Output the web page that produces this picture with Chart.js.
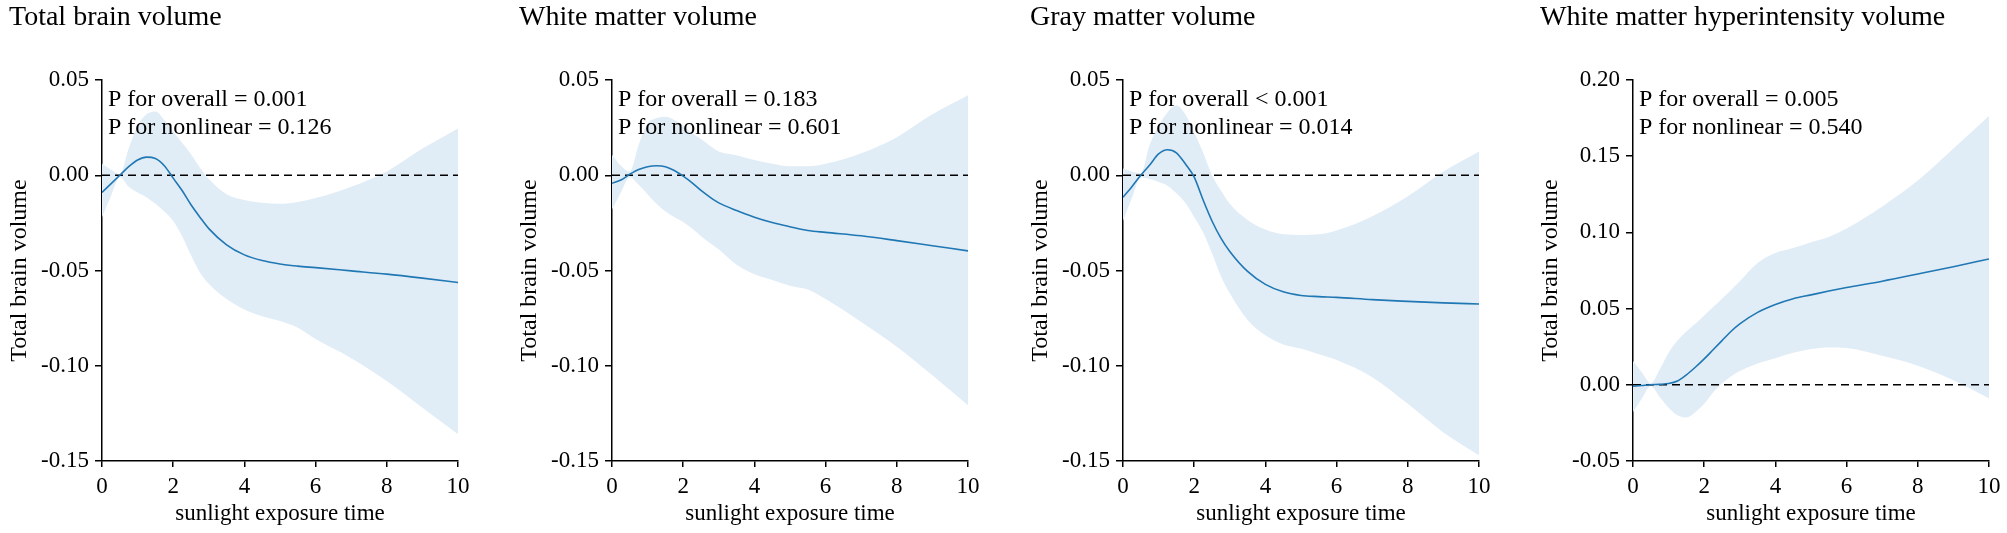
<!DOCTYPE html>
<html>
<head>
<meta charset="utf-8">
<script src="https://cdn.jsdelivr.net/npm/chart.js@4"></script>
<style>
  html, body { margin: 0; padding: 0; background: #fff; overflow: hidden; }
  #wrap { position: relative; width: 2007px; height: 533px; }
  canvas { position: absolute; top: 0; }
</style>
</head>
<body>
<div id="wrap"></div>
<script>
// ---------- data ----------
const xGrid = [0, 0.25, 0.5, 0.75, 1, 1.25, 1.5, 1.75, 2, 2.25, 2.5, 2.75, 3, 3.5, 4, 4.5, 5, 5.5, 6, 7, 8, 9, 10];

const panelTitles = ["Total brain volume", "White matter volume", "Gray matter volume", "White matter hyperintensity volume"];
const pOverall = ["P for overall = 0.001", "P for overall = 0.183", "P for overall < 0.001", "P for overall = 0.005"];
const pNonlinear = ["P for nonlinear = 0.126", "P for nonlinear = 0.601", "P for nonlinear = 0.014", "P for nonlinear = 0.540"];
const yAxisTitle = "Total brain volume";
const xAxisTitle = "sunlight exposure time";
const xTicks = [0, 2, 4, 6, 8, 10];
const yTicksVolume = [-0.15, -0.10, -0.05, 0.00, 0.05];
const yTicksWmh = [-0.05, 0.00, 0.05, 0.10, 0.15, 0.20];

// Total brain volume
const tbvMean  = [-0.009, -0.0045, 0.0, 0.0045, 0.008, 0.0095, 0.0088, 0.005, -0.0015, -0.008, -0.0155, -0.022, -0.028, -0.0365, -0.0418, -0.0448, -0.0466, -0.0477, -0.0485, -0.0502, -0.0519, -0.054, -0.0563];
const tbvUpper = [0.006, 0.003, 0.0005, 0.014, 0.026, 0.032, 0.0335, 0.029, 0.023, 0.017, 0.011, 0.004, -0.002, -0.010, -0.013, -0.0145, -0.015, -0.014, -0.012, -0.006, 0.002, 0.014, 0.0246];
const tbvLower = [-0.022, -0.011, -0.001, -0.006, -0.009, -0.0115, -0.015, -0.019, -0.024, -0.032, -0.042, -0.051, -0.057, -0.065, -0.0705, -0.074, -0.0765, -0.080, -0.086, -0.096, -0.108, -0.122, -0.136];

// White matter volume
const wmMean  = [-0.0042, -0.0025, 0.0005, 0.003, 0.0045, 0.005, 0.0045, 0.0025, -0.0005, -0.004, -0.008, -0.0115, -0.0145, -0.0185, -0.022, -0.0248, -0.027, -0.029, -0.030, -0.0318, -0.0343, -0.037, -0.0397];
const wmUpper = [0.0108, 0.005, 0.002, 0.016, 0.027, 0.030, 0.0307, 0.029, 0.026, 0.022, 0.019, 0.0155, 0.0125, 0.0105, 0.008, 0.006, 0.0047, 0.0047, 0.006, 0.0115, 0.020, 0.032, 0.042];
const wmLower = [-0.018, -0.009, -0.001, -0.005, -0.010, -0.015, -0.019, -0.022, -0.0245, -0.028, -0.032, -0.0355, -0.039, -0.047, -0.052, -0.055, -0.058, -0.060, -0.065, -0.077, -0.090, -0.105, -0.1208];

// Gray matter volume
const gmMean  = [-0.0116, -0.006, 0.0, 0.0054, 0.0112, 0.0134, 0.0118, 0.006, -0.001, -0.013, -0.024, -0.033, -0.040, -0.0505, -0.0573, -0.0612, -0.0631, -0.0637, -0.0641, -0.0653, -0.0662, -0.067, -0.0676];
const gmUpper = [0.0036, 0.002, 0.001, 0.016, 0.026, 0.033, 0.0367, 0.032, 0.0225, 0.012, 0.0, -0.008, -0.015, -0.0235, -0.0285, -0.031, -0.0313, -0.031, -0.029, -0.0215, -0.011, 0.002, 0.0125];
const gmLower = [-0.024, -0.012, -0.001, -0.002, -0.0035, -0.0055, -0.0095, -0.0145, -0.022, -0.030, -0.041, -0.053, -0.062, -0.076, -0.084, -0.0888, -0.091, -0.094, -0.097, -0.106, -0.120, -0.135, -0.147];

// White matter hyperintensity volume
const wmhMean  = [-0.001, -0.0005, 0.0, 0.0003, 0.0008, 0.0025, 0.0065, 0.0115, 0.017, 0.023, 0.029, 0.035, 0.040, 0.0475, 0.0527, 0.0565, 0.059, 0.0615, 0.0638, 0.068, 0.0727, 0.0775, 0.0826];
const wmhUpper = [0.0156, 0.008, 0.001, 0.010, 0.021, 0.029, 0.035, 0.040, 0.0455, 0.051, 0.0565, 0.062, 0.068, 0.080, 0.0865, 0.0897, 0.0935, 0.097, 0.1025, 0.117, 0.134, 0.155, 0.1763];
const wmhLower = [-0.0179, -0.009, -0.001, -0.008, -0.015, -0.020, -0.0215, -0.018, -0.0125, -0.005, 0.001, 0.0055, 0.009, 0.014, 0.0175, 0.021, 0.0235, 0.0245, 0.0242, 0.019, 0.0125, 0.003, -0.0089];

const panelMeans  = [tbvMean, wmMean, gmMean, wmhMean];
const panelUppers = [tbvUpper, wmUpper, gmUpper, wmhUpper];
const panelLowers = [tbvLower, wmLower, gmLower, wmhLower];
const panelYTicks = [yTicksVolume, yTicksVolume, yTicksVolume, yTicksWmh];

// ---------- styling ----------
const FONT = "'Liberation Serif', 'Times New Roman', 'DejaVu Serif', serif";
const LINE_COLOR = '#1f77b4';
const BAND_COLOR = 'rgba(225, 237, 246, 1)';
const canvasLefts = [0, 510, 1021, 1531];
const CW = 480, CH = 533;

const annotationPlugin = {
  id: 'pAnnot',
  afterDatasetsDraw(chart, args, opts) {
    const ctx = chart.ctx;
    const a = chart.chartArea;
    ctx.save();
    ctx.fillStyle = '#000';
    ctx.font = '24px ' + FONT;
    ctx.textAlign = 'left';
    ctx.textBaseline = 'alphabetic';
    ctx.fillText(opts.line1, a.left + 6, a.top + 26);
    ctx.fillText(opts.line2, a.left + 6, a.top + 54);
    ctx.restore();
  }
};

const wrap = document.getElementById('wrap');
for (let i = 0; i < 4; i++) {
  const cv = document.createElement('canvas');
  cv.width = CW; cv.height = CH;
  cv.style.left = canvasLefts[i] + 'px';
  cv.style.width = CW + 'px'; cv.style.height = CH + 'px';
  wrap.appendChild(cv);

  const toPts = arr => xGrid.map((x, k) => ({ x: x, y: arr[k] }));
  const yt = panelYTicks[i];

  new Chart(cv.getContext('2d'), {
    type: 'line',
    data: {
      datasets: [
        { label: 'upper', data: toPts(panelUppers[i]), borderWidth: 0, borderColor: 'rgba(0,0,0,0)', pointRadius: 0, fill: false, cubicInterpolationMode: 'monotone', order: 4 },
        { label: 'lower', data: toPts(panelLowers[i]), borderWidth: 0, borderColor: 'rgba(0,0,0,0)', pointRadius: 0, fill: '-1', backgroundColor: BAND_COLOR, cubicInterpolationMode: 'monotone', order: 3 },
        { label: 'ref', data: [{ x: 0, y: 0 }, { x: 10, y: 0 }], borderColor: '#000', borderWidth: 1.4, borderDash: [8, 5], pointRadius: 0, fill: false, order: 2 },
        { label: 'mean', data: toPts(panelMeans[i]), borderColor: LINE_COLOR, borderWidth: 1.6, pointRadius: 0, fill: false, cubicInterpolationMode: 'monotone', order: 1 }
      ]
    },
    options: {
      responsive: false,
      animation: false,
      devicePixelRatio: 1,
      layout: { padding: { left: 9, top: 0, right: 22, bottom: 0 } },
      plugins: {
        legend: { display: false },
        tooltip: { enabled: false },
        title: {
          display: true, text: panelTitles[i], align: 'start', color: '#000',
          font: { family: FONT, size: 28, weight: 'normal' },
          padding: { top: 1, bottom: 45.4 }
        },
        pAnnot: { line1: pOverall[i], line2: pNonlinear[i] }
      },
      scales: {
        x: {
          type: 'linear', min: 0, max: 10,
          afterFit: s => { s.height = 72; },
          afterBuildTicks: s => { s.ticks = xTicks.map(v => ({ value: v })); },
          ticks: { color: '#000', font: { family: FONT, size: 23 }, padding: 6, maxRotation: 0, callback: v => String(v) },
          grid: { display: true, drawOnChartArea: false, drawTicks: true, tickLength: 6, color: '#000', lineWidth: 1.5 },
          border: { display: true, color: '#000', width: 1.5 },
          title: { display: true, text: xAxisTitle, color: '#000', font: { family: FONT, size: 23 }, padding: { top: 0, bottom: 5 } }
        },
        y: {
          type: 'linear', min: yt[0], max: yt[yt.length - 1],
          afterFit: s => { s.width = 93; },
          afterBuildTicks: s => { s.ticks = yt.map(v => ({ value: v })); },
          ticks: { color: '#000', font: { family: FONT, size: 23 }, padding: 6, callback: v => Number(v).toFixed(2) },
          grid: { display: true, drawOnChartArea: false, drawTicks: true, tickLength: 7, color: '#000', lineWidth: 1.5 },
          border: { display: true, color: '#000', width: 1.5 },
          title: { display: true, text: yAxisTitle, color: '#000', font: { family: FONT, size: 24 }, padding: { top: -4, bottom: 0 } }
        }
      }
    },
    plugins: [annotationPlugin]
  });
}
</script>
</body>
</html>
